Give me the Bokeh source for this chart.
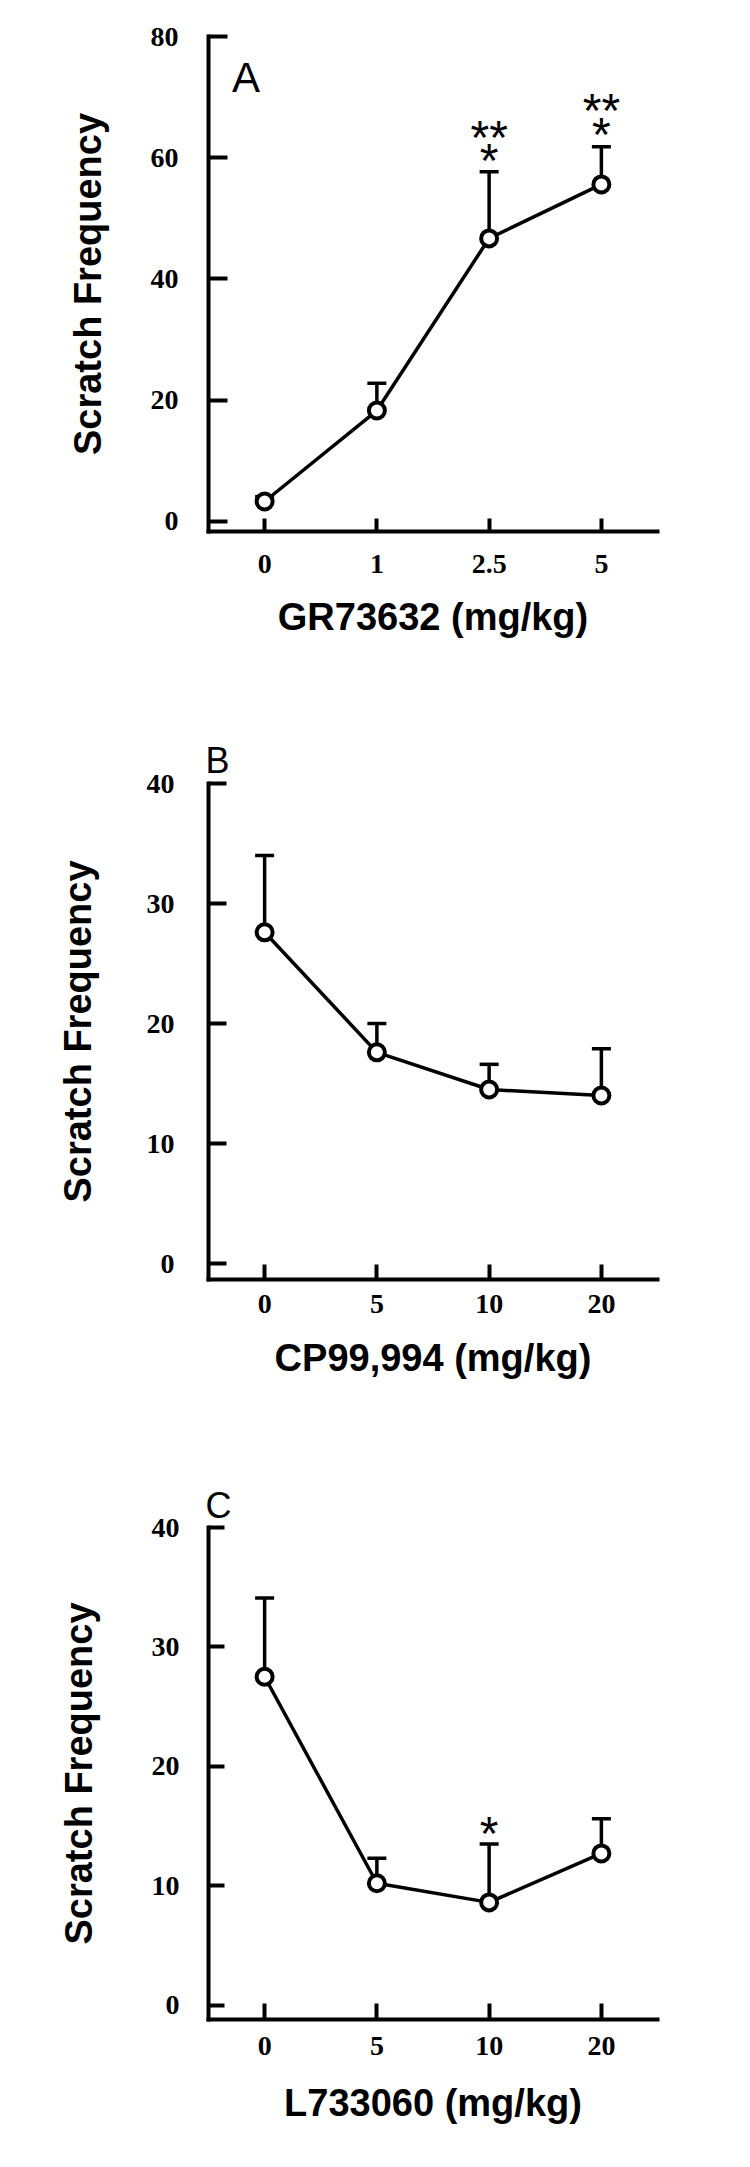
from bokeh.plotting import figure
from bokeh.models import (FactorRange, Range1d, FixedTicker, Whisker, TeeHead,
                          Label, ColumnDataSource)
from bokeh.layouts import column
from bokeh.embed import file_html
from bokeh.resources import INLINE
from bokeh.core.properties import value

# ---------------- data ----------------
a_doses = ["0", "1", "2.5", "5"]
a_mean = [3.3, 18.3, 46.7, 55.6]
a_sem = [0.8, 4.5, 11.0, 6.2]
a_yticks = [0, 20, 40, 60, 80]
a_xlabel = "GR73632 (mg/kg)"
a_stars_x = ["2.5", "2.5", "5", "5"]
a_stars_y = [63.4, 59.6, 67.8, 63.9]
a_stars_t = ["**", "*", "**", "*"]

b_doses = ["0", "5", "10", "20"]
b_mean = [27.6, 17.6, 14.5, 14.0]
b_sem = [6.4, 2.4, 2.1, 3.9]
b_yticks = [0, 10, 20, 30, 40]
b_xlabel = "CP99,994 (mg/kg)"

c_doses = ["0", "5", "10", "20"]
c_mean = [27.5, 10.2, 8.6, 12.7]
c_sem = [6.6, 2.1, 4.9, 2.9]
c_yticks = [0, 10, 20, 30, 40]
c_xlabel = "L733060 (mg/kg)"
c_stars_x = ["10"]
c_stars_y = [14.4]
c_stars_t = ["*"]

YLABEL = "Scratch Frequency"
W = 734


def panel(doses, mean, sem, yticks, ymin, ymax, xlabel, letter, geo,
          stars=None):
    p = figure(x_range=FactorRange(*doses), y_range=Range1d(ymin, ymax),
               width=W, height=geo["h"], min_border_left=geo["l"],
               min_border_right=geo["r"], min_border_top=geo["t"],
               min_border_bottom=geo["b"], output_backend="svg",
               toolbar_location=None, tools="")
    p.outline_line_color = None
    p.grid.visible = False
    p.background_fill_color = "white"
    p.border_fill_color = "white"

    for ax in (p.xaxis[0], p.yaxis[0]):
        ax.axis_line_width = 4
        ax.axis_line_color = "black"
        ax.axis_line_cap = "square"
        ax.major_tick_line_width = 4
        ax.major_tick_line_color = "black"
        ax.major_tick_out = 0
        ax.minor_tick_line_color = None
        ax.major_label_text_font = "Liberation Serif"
        ax.major_label_text_font_style = "bold"
        ax.major_label_text_font_size = "28px"
        ax.major_label_text_color = "black"
        ax.axis_label_text_font = "Liberation Sans"
        ax.axis_label_text_font_style = "bold"
        ax.axis_label_text_font_size = "38px"
        ax.axis_label_text_color = "black"

    p.yaxis[0].ticker = FixedTicker(ticks=yticks)
    p.yaxis[0].major_tick_in = geo["ytick"]
    p.xaxis[0].major_tick_in = geo["xtick"]
    p.yaxis[0].major_label_standoff = geo["ystand"]
    p.xaxis[0].major_label_standoff = geo["xstand"]
    p.yaxis[0].axis_label = YLABEL
    p.xaxis[0].axis_label = xlabel
    p.yaxis[0].axis_label_standoff = geo["ylstand"]
    p.xaxis[0].axis_label_standoff = geo["xlstand"]

    top = [m + s for m, s in zip(mean, sem)]
    src = ColumnDataSource(dict(x=doses, y=mean, top=top))

    p.line(x="x", y="y", source=src, line_width=3.5, line_color="black")
    p.add_layout(Whisker(source=src, base="x", lower="y", upper="top",
                         dimension="height", line_width=3.5,
                         line_color="black", lower_head=None,
                         upper_head=TeeHead(size=19, line_width=3.5,
                                            line_color="black")))
    p.scatter(x="x", y="y", source=src, size=16, fill_color="white",
              line_color="black", line_width=4)

    if stars:
        sx, sy, st = stars
        p.text(x=sx, y=sy, text=st, text_font=value("Liberation Sans"),
               text_font_size="48px", text_align="center",
               text_baseline="alphabetic", text_color="black")

    if geo.get("inside"):
        p.add_layout(Label(x=geo["lx"], y=geo["ly"], text=letter,
                           text_font="Liberation Sans",
                           text_font_size=geo["lsize"], text_align="left",
                           text_baseline="alphabetic", text_color="black"))
    else:
        p.title.text = letter
        p.title.align = "left"
        p.title.offset = geo["toff"]
        p.title.standoff = geo["tstand"]
        p.title.text_font = "Liberation Sans"
        p.title.text_font_style = "normal"
        p.title.text_font_size = geo["lsize"]
        p.title.text_color = "black"
    return p


pa = panel(a_doses, a_mean, a_sem, a_yticks, -1.65, 80, a_xlabel, "A",
           dict(h=672, l=199, r=35, t=36, b=141, ytick=19, xtick=13,
                ystand=30, xstand=23, ylstand=39, xlstand=20,
                inside=True, lx=0.21, ly=73.2, lsize="42px"),
           stars=(a_stars_x, a_stars_y, a_stars_t))
pb = panel(b_doses, b_mean, b_sem, b_yticks, -1.33, 40, b_xlabel, "B",
           dict(h=747, l=208, r=22, t=111, b=140, ytick=18, xtick=15,
                ystand=34, xstand=15, ylstand=45, xlstand=21,
                toff=-3, tstand=6, lsize="36px"))
pc = panel(c_doses, c_mean, c_sem, c_yticks, -1.21, 40, c_xlabel, "C",
           dict(h=730, l=163, r=77, t=108, b=130, ytick=16, xtick=16,
                ystand=29, xstand=17, ylstand=49, xlstand=24,
                toff=-3, tstand=3, lsize="36px"),
           stars=(c_stars_x, c_stars_y, c_stars_t))

layout = column(pa, pb, pc, spacing=0)
open("out.html", "w").write(file_html(layout, INLINE))
